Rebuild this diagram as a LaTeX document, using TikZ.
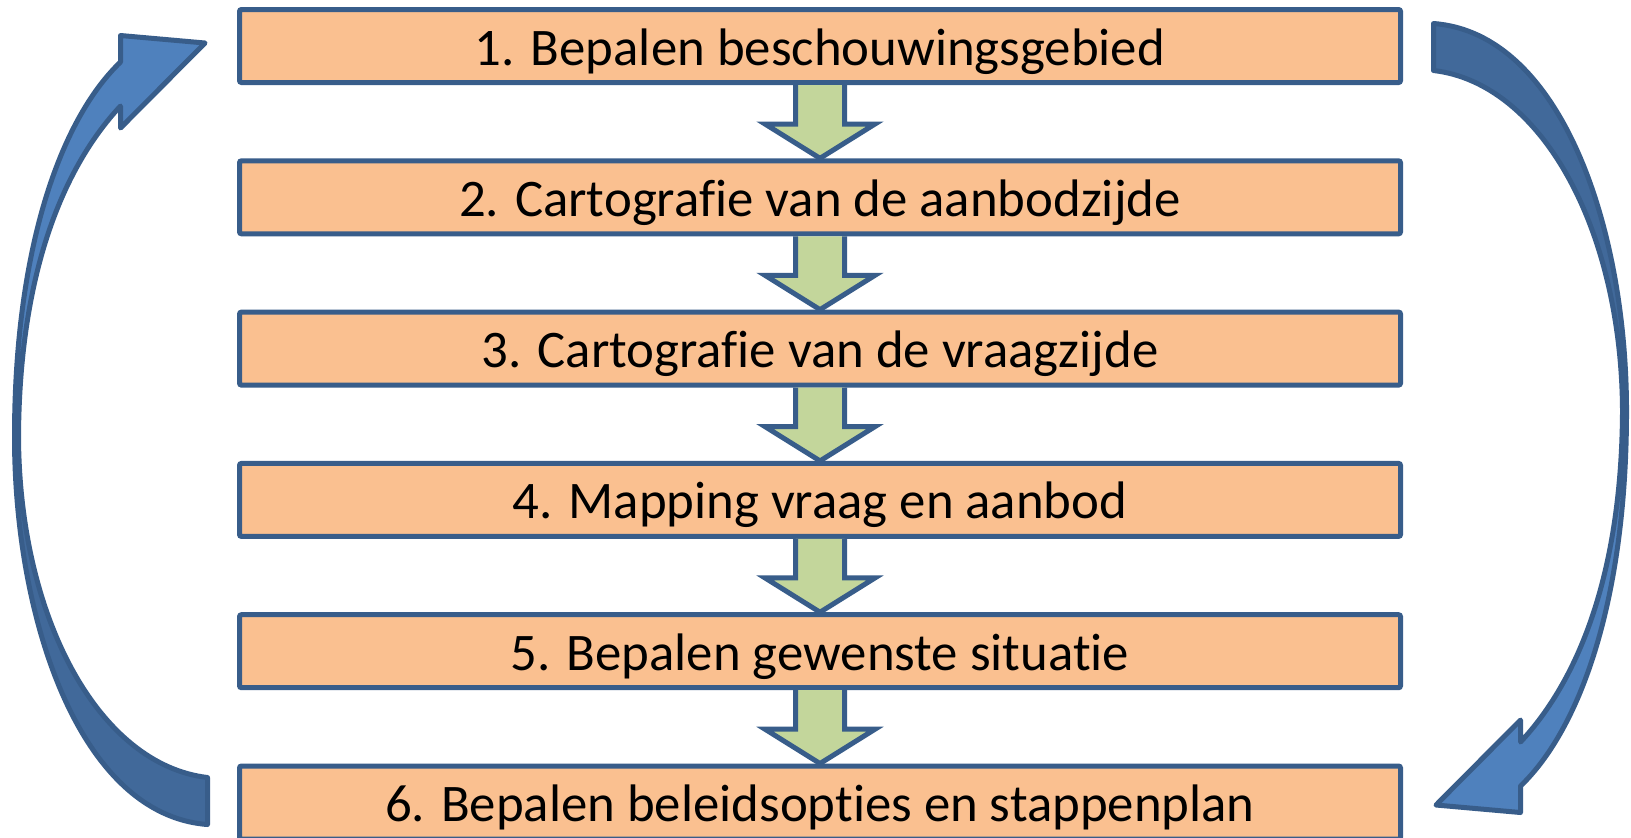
\documentclass[tikz,border=0pt]{standalone}
\usepackage{fontspec}
\setmainfont{Carlito}[Ligatures=NoCommon]
\usetikzlibrary{calc}
\definecolor{boxfill}{HTML}{FAC090}
\definecolor{edge}{HTML}{385D8A}
\definecolor{greenfill}{HTML}{C3D69B}
\definecolor{frontfill}{HTML}{4F81BD}
\definecolor{backfill}{HTML}{41699A}
\tikzset{
  stepbox/.style={draw=edge, fill=boxfill, line width=2.5pt, rounded corners=1pt,
    minimum width=580.5pt, minimum height=36.5pt, inner sep=0pt,
    text height=22pt, text depth=3pt, font=\fontsize{26.4}{30}\selectfont},
  greenarrow/.style={draw=edge, fill=greenfill, line width=2.5pt, line join=miter},
  arrowline/.style={draw=edge, line width=2.5pt, line join=round},
  looparrow/.pic={
    \fill[backfill] (207.5,824.5) .. controls (80,815) and (14.5,620) .. (14.5,437)
      -- (18.5,437) .. controls (19.5,620) and (100,765) .. (207.5,777.5) -- cycle;
    \fill[frontfill] (14.5,437) .. controls (14.5,250) and (60,120) .. (120.5,62)
      -- (120.5,35.5) -- (205,43) -- (120.5,128) -- (120.5,106)
      .. controls (70,160) and (19.5,260) .. (18.5,437) -- cycle;
    \draw[arrowline] (207.5,824.5) .. controls (80,815) and (14.5,620) .. (14.5,437)
      .. controls (14.5,250) and (60,120) .. (120.5,62)
      -- (120.5,35.5) -- (205,43) -- (120.5,128) -- (120.5,106)
      .. controls (70,160) and (19.5,260) .. (18.5,437)
      .. controls (19.5,620) and (100,765) .. (207.5,777.5) -- cycle;
  }
}
\begin{document}
\begin{tikzpicture}[x=0.5pt,y=-0.5pt]
\useasboundingbox (0,0) rectangle (1631,837);
\clip (0,0) rectangle (1631,837);
\fill[white] (0,0) rectangle (1631,837);
% boxes
\node[stepbox] (b1) at (820,46) {1. Bepalen beschouwingsgebied};
\node[stepbox] (b2) at (820,197.3) {2. Cartografie van de aanbodzijde};
\node[stepbox] (b3) at (820,348.6) {3. Cartografie van de vraagzijde};
\node[stepbox] (b4) at (820,499.9) {4. Mapping vraag en aanbod};
\node[stepbox] (b5) at (820,651.2) {5. Bepalen gewenste situatie};
\node[stepbox] (b6) at (820,802.5) {6. Bepalen beleidsopties en stappenplan};
% green arrows
\foreach \a/\b in {b1/b2,b2/b3,b3/b4,b4/b5,b5/b6}{
  \draw[greenarrow] ($(\a.south)+(-24.5,0)$) -- ($(\a.south)+(-24.5,39)$)
    -- ($(\a.south)+(-55,39)$) -- (\b.north) -- ($(\a.south)+(55,39)$)
    -- ($(\a.south)+(24.5,39)$) -- ($(\a.south)+(24.5,0)$);
}
% curved arrows
\pic at (0,0) {looparrow};
\pic[rotate=180] at (1641,848) {looparrow};
\end{tikzpicture}
\end{document}
